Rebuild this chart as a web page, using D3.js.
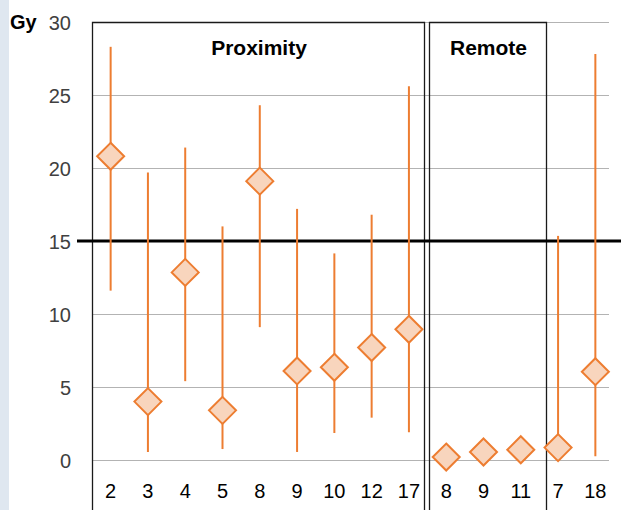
<!DOCTYPE html>
<html><head><meta charset="utf-8">
<script src="https://cdn.jsdelivr.net/npm/d3@7"></script>
<style>html,body{margin:0;padding:0;background:#fff;}svg{display:block;}</style>
</head><body>
<svg id="c" width="621" height="510"></svg>
<script>
const categories = ["2","3","4","5","8","9","10","12","17","8","9","11","7","18"];
const meanVals  = [20.8, 4.0, 12.85, 3.4, 19.1, 6.1, 6.35, 7.7, 8.95, 0.2, 0.55, 0.7, 0.85, 6.05];
const upperVals = [28.3, 19.7, 21.4, 16.0, 24.3, 17.2, 14.15, 16.8, 25.6, null, null, null, 15.35, 27.8];
const lowerVals = [11.6, 0.55, 5.4, 0.75, 9.1, 0.55, 1.85, 2.9, 1.9, null, null, null, 0.85, 0.25];
const yTicks = [0, 5, 10, 15, 20, 25, 30];
const threshold = 15;
const groups = [
  {name: "Proximity", from: 0, to: 8},
  {name: "Remote", from: 9, to: 11}
];

(function(){
const svg = d3.select("#c");
const W = 621, H = 510;
const mLeft = 92, mRight = 614, mTop = 22, mBottom = 460;
const font = "Liberation Sans, Arial, sans-serif";

svg.append("rect").attr("x",0).attr("y",0).attr("width",9).attr("height",H).attr("fill","#dfe7f0");

const x = d3.scaleBand().domain(d3.range(categories.length)).range([mLeft, mRight]).padding(0);
const y = d3.scaleLinear().domain([0, 30]).range([mBottom, mTop]);
const cx = i => x(i) + x.bandwidth()/2;

// gridlines
svg.append("g").selectAll("line").data(yTicks.filter(t => t !== threshold)).join("line")
  .attr("x1", mLeft).attr("x2", 609).attr("y1", d => y(d)+0.5).attr("y2", d => y(d)+0.5)
  .attr("stroke", "#b3b3b3").attr("stroke-width", 1);

// y tick labels
const yAxis = d3.axisLeft(y).tickValues(yTicks).tickSize(0).tickPadding(0);
const ya = svg.append("g").attr("transform", `translate(71,0)`).call(yAxis);
ya.select(".domain").remove();
ya.selectAll("text").attr("font-family",font).attr("font-size","20px")
  .attr("fill","#404040").attr("dy","0.35em");

svg.append("text").attr("x", 10).attr("y", 29).text("Gy")
  .attr("font-family",font).attr("font-size","20px").attr("font-weight","bold").attr("fill","#000");

// group boxes
groups.forEach((g, k) => {
  const xs = k === 0 ? mLeft : 429;
  const xe = k === 0 ? 424 : 546;
  svg.append("path").attr("d", `M${xs+0.5},${H+5}V${mTop+0.5}H${xe+0.5}V${H+5}`)
    .attr("fill","none").attr("stroke","#1a1a1a").attr("stroke-width",1.3);
  svg.append("text").attr("x", (xs+xe)/2 + 1).attr("y", 54.5).attr("text-anchor","middle").text(g.name)
    .attr("font-family",font).attr("font-size","21px").attr("font-weight","bold").attr("fill","#000");
});

// x axis labels
const xa = svg.append("g").attr("transform", `translate(0,${498})`)
  .call(d3.axisBottom(x).tickFormat(i => categories[i]).tickSize(0).tickPadding(0));
xa.select(".domain").remove();
xa.selectAll("text").attr("font-family",font).attr("font-size","20px")
  .attr("fill","#000").attr("dy","0");

// threshold line
svg.append("line").attr("x1", 77).attr("x2", W).attr("y1", y(threshold)).attr("y2", y(threshold))
  .attr("stroke","#000").attr("stroke-width",3);

// error bars
const idx = d3.range(categories.length).filter(i => upperVals[i] != null);
svg.append("g").selectAll("line").data(idx).join("line")
  .attr("x1", cx).attr("x2", cx).attr("y1", i => y(upperVals[i])).attr("y2", i => y(lowerVals[i]))
  .attr("stroke","#ed7d31").attr("stroke-width",2);

// diamonds
const s = 13.5;
svg.append("g").selectAll("path").data(d3.range(categories.length)).join("path")
  .attr("d", i => { const X = cx(i), Y = y(meanVals[i]); return `M${X},${Y-s}L${X+s},${Y}L${X},${Y+s}L${X-s},${Y}Z`; })
  .attr("fill","#f8d5bd").attr("stroke","#ed7d31").attr("stroke-width",2);
})();
</script>
</body></html>
